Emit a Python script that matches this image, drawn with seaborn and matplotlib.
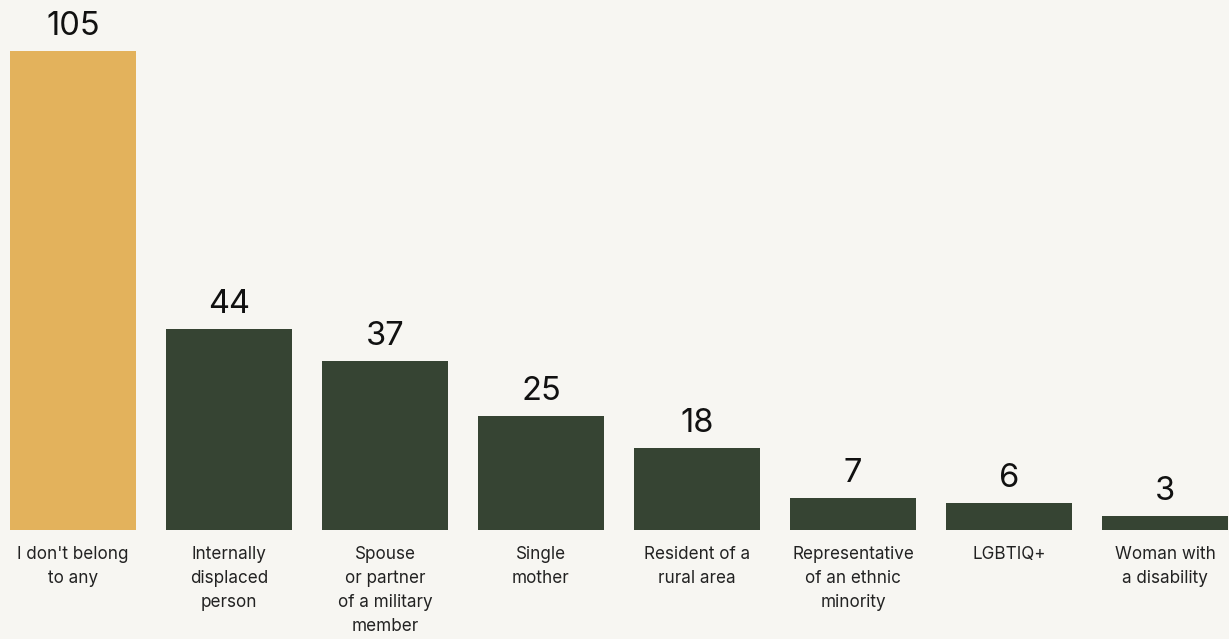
import matplotlib
matplotlib.use("Agg")
import matplotlib.pyplot as plt
import seaborn as sns
import pandas as pd

categories = [
    "I don't belong\nto any",
    "Internally\ndisplaced\nperson",
    "Spouse\nor partner\nof a military\nmember",
    "Single\nmother",
    "Resident of a\nrural area",
    "Representative\nof an ethnic\nminority",
    "LGBTIQ+",
    "Woman with\na disability",
]
values = [105, 44, 37, 25, 18, 7, 6, 3]
highlight = [True, False, False, False, False, False, False, False]

BG = "#f7f6f2"
GOLD = "#e3b25c"
GREEN = "#364433"

sns.set_theme(style="white")
plt.rcParams["font.family"] = ["Inter", "DejaVu Sans"]

df = pd.DataFrame({"category": categories, "value": values,
                   "group": ["a" if h else "b" for h in highlight]})

W, H = 1229, 639
fig = plt.figure(figsize=(W / 100, H / 100), dpi=100, facecolor=BG)
ax = fig.add_axes([0, 109 / H, 1, 530 / H])
ax.set_facecolor(BG)

sns.barplot(data=df, x="category", y="value", hue="group",
            palette={"a": GOLD, "b": GREEN}, dodge=False, legend=False,
            width=126 / 156, saturation=1, linewidth=0, edgecolor="none",
            ax=ax)

ax.set_xlim(-73 / 156, (W - 73) / 156)
ax.set_ylim(0, 530 * 105 / 479)

for i, v in enumerate(values):
    ax.annotate(str(v), (i, v), xytext=(0, 6.5), textcoords="offset points",
                ha="center", va="bottom", fontsize=23.5, color="#111111")

ax.set_xlabel("")
ax.set_ylabel("")
ax.set_yticks([])
ax.set_xticks(range(len(categories)))
ax.set_xticklabels(categories, fontsize=12.3, color="#222222", linespacing=1.55)
ax.tick_params(axis="x", length=0, pad=11.5)
for s in ax.spines.values():
    s.set_visible(False)

fig.savefig("out.png", dpi=100, facecolor=BG)
